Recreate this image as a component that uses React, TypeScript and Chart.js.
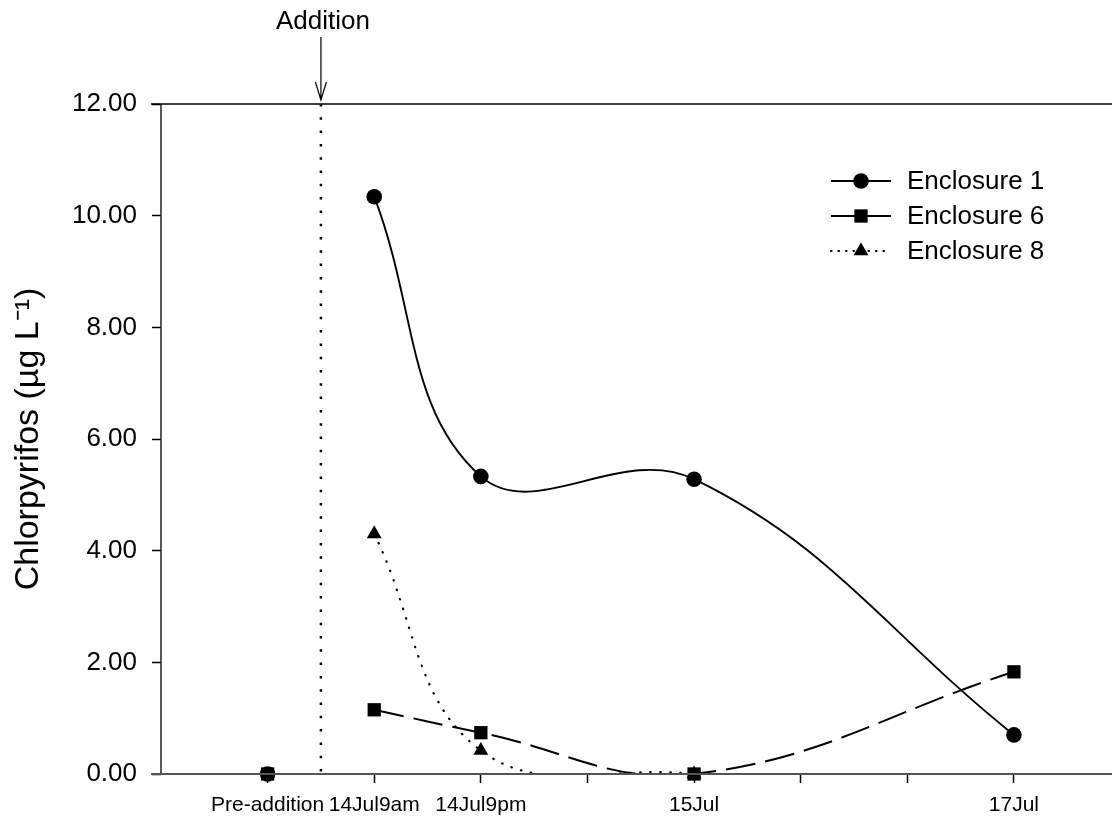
import React, { useEffect, useRef } from 'react';
import { Chart, registerables } from 'chart.js';

Chart.register(...registerables);

// ---- data ----
const timeLabels = ['Pre-addition', '14Jul9am', '14Jul9pm', '15Jul', '17Jul'];
const timePositions = [0, 1, 2, 4, 7]; // in 12-hour steps
const additionPosition = 0.5;
const additionLabel = 'Addition';
const seriesNames = ['Enclosure 1', 'Enclosure 6', 'Enclosure 8'];
const enclosure1 = [0, 10.34, 5.33, 5.28, 0.7];
const enclosure6 = [0, 1.15, 0.74, 0.0, 1.83];
const enclosure8: (number | null)[] = [null, 4.3, 0.42, 0.0, null];
const xTickValues = [0, 1, 2, 3, 4, 5, 6, 7];
const xMin = -1;
const xMax = 7.92;
const yMin = 0;
const yMax = 12;
const yStep = 2;
const yTitle = 'Chlorpyrifos (µg L⁻¹)';

const FONT = '"Liberation Sans", Arial, Helvetica, sans-serif';

function toPoints(values: (number | null)[]) {
  const pts: { x: number; y: number | null }[] = [];
  values.forEach((v, i) => {
    if (i === 1) pts.push({ x: additionPosition, y: null });
    pts.push({ x: timePositions[i], y: v });
  });
  return pts;
}

const seriesStyles = [
  { dash: [] as number[], style: 'circle', radius: 7.8, width: 1.9, cap: 'butt' as CanvasLineCap, legendDash: [] as number[] },
  { dash: [30, 10], style: 'rect', radius: 9.4, width: 2, cap: 'butt' as CanvasLineCap, legendDash: [] as number[] },
  { dash: [0.5, 9.5], style: 'triangle', radius: 8.6, width: 2.2, cap: 'round' as CanvasLineCap, legendDash: [0.5, 7] },
];

function drawMarker(ctx: CanvasRenderingContext2D, style: string, x: number, y: number, r: number) {
  ctx.save();
  ctx.fillStyle = '#000';
  ctx.setLineDash([]);
  ctx.beginPath();
  if (style === 'circle') {
    ctx.arc(x, y, r, 0, Math.PI * 2);
  } else if (style === 'rect') {
    const s = r * Math.SQRT1_2;
    ctx.rect(x - s, y - s, 2 * s, 2 * s);
  } else {
    const h = r * 1.5;
    const half = (r * Math.sqrt(3)) / 2;
    ctx.moveTo(x, y - r);
    ctx.lineTo(x + half, y - r + h);
    ctx.lineTo(x - half, y - r + h);
    ctx.closePath();
  }
  ctx.fill();
  ctx.restore();
}

const decorPlugin = {
  id: 'decor',
  beforeDatasetsDraw(chart: any) {
    const { ctx, chartArea, scales } = chart;
    const xs = scales.x;
    const ax = xs.getPixelForValue(additionPosition);
    ctx.save();
    ctx.strokeStyle = '#000';
    ctx.lineWidth = 2.5;
    ctx.setLineDash([2.5, 10.8]);
    ctx.beginPath();
    ctx.moveTo(ax, chartArea.top);
    ctx.lineTo(ax, chartArea.bottom);
    ctx.stroke();
    ctx.restore();
  },
  afterDraw(chart: any) {
    const { ctx, chartArea, scales } = chart;
    const xs = scales.x;
    const ys = scales.y;
    const leftExt = chartArea.left - 10;
    ctx.save();
    // top line
    ctx.strokeStyle = '#000';
    ctx.lineWidth = 1.5;
    ctx.beginPath();
    ctx.moveTo(leftExt, ys.getPixelForValue(yMax));
    ctx.lineTo(chartArea.right, ys.getPixelForValue(yMax));
    ctx.stroke();
    // y axis
    ctx.strokeStyle = '#222';
    ctx.lineWidth = 1.5;
    ctx.beginPath();
    ctx.moveTo(chartArea.left, chartArea.top);
    ctx.lineTo(chartArea.left, chartArea.bottom);
    ctx.stroke();
    // x axis
    ctx.strokeStyle = '#555';
    ctx.lineWidth = 2;
    ctx.beginPath();
    ctx.moveTo(leftExt, ys.getPixelForValue(yMin));
    ctx.lineTo(chartArea.right, ys.getPixelForValue(yMin));
    ctx.stroke();

    // arrow + Addition label
    const ax = xs.getPixelForValue(additionPosition);
    ctx.strokeStyle = '#000';
    ctx.lineWidth = 1.2;
    ctx.beginPath();
    ctx.moveTo(ax, 37);
    ctx.lineTo(ax, chartArea.top - 4);
    ctx.moveTo(ax - 5.5, chartArea.top - 22);
    ctx.lineTo(ax, chartArea.top - 4);
    ctx.lineTo(ax + 5.5, chartArea.top - 22);
    ctx.stroke();
    ctx.fillStyle = '#000';
    ctx.font = `26px ${FONT}`;
    ctx.textAlign = 'center';
    ctx.textBaseline = 'alphabetic';
    ctx.fillText(additionLabel, ax + 2, 29);

    // legend
    const rows = [181, 216, 251];
    const lx0 = 831;
    const lx1 = 891;
    const mx = 861;
    seriesNames.forEach((name, i) => {
      const st = seriesStyles[i];
      const y = rows[i];
      ctx.save();
      ctx.strokeStyle = '#000';
      ctx.lineWidth = st.width;
      ctx.lineCap = st.cap;
      ctx.setLineDash(st.legendDash);
      ctx.beginPath();
      ctx.moveTo(lx0, y);
      ctx.lineTo(lx1, y);
      ctx.stroke();
      ctx.restore();
      drawMarker(ctx, st.style, mx, y, st.radius);
      ctx.fillStyle = '#000';
      ctx.font = `26px ${FONT}`;
      ctx.textAlign = 'left';
      ctx.textBaseline = 'middle';
      ctx.fillText(name, 907, y + 1);
    });
    ctx.restore();
  },
};

export default function App() {
  const canvasRef = useRef<HTMLCanvasElement | null>(null);

  useEffect(() => {
    const canvas = canvasRef.current;
    if (!canvas) return;
    const allSeries = [enclosure1, enclosure6, enclosure8];
    const lineSets = allSeries.map((values, i) => {
      const st = seriesStyles[i];
      return {
        label: seriesNames[i] + ' line',
        data: toPoints(values),
        borderColor: '#000',
        backgroundColor: '#000',
        borderWidth: st.width,
        borderDash: st.dash,
        borderCapStyle: st.cap,
        pointRadius: 0,
        tension: 0.4,
        capBezierPoints: false,
        spanGaps: false,
        clip: 0,
        fill: false,
        order: 10 + i,
      };
    });
    const pointSets = allSeries.map((values, i) => {
      const st = seriesStyles[i];
      return {
        label: seriesNames[i],
        data: toPoints(values),
        showLine: false,
        pointStyle: st.style,
        pointRadius: st.radius,
        pointBackgroundColor: '#000',
        pointBorderColor: '#000',
        pointBorderWidth: 0,
        clip: false,
        order: i,
      };
    });

    const chart = new Chart(canvas, {
      type: 'line',
      data: { datasets: [...lineSets, ...pointSets] } as any,
      plugins: [decorPlugin],
      options: {
        animation: false,
        responsive: false,
        events: [],
        layout: { autoPadding: false, padding: { top: 104, right: 0, left: 0, bottom: 0 } },
        plugins: {
          legend: { display: false },
          tooltip: { enabled: false },
        },
        scales: {
          x: {
            type: 'linear',
            min: xMin,
            max: xMax,
            afterBuildTicks: (scale: any) => {
              scale.ticks = xTickValues.map((v) => ({ value: v }));
            },
            afterFit: (scale: any) => {
              scale.height = 44;
            },
            ticks: {
              autoSkip: false,
              maxRotation: 0,
              minRotation: 0,
              padding: 10,
              color: '#000',
              font: { family: FONT, size: 21 },
              callback: (v: any) => {
                const idx = timePositions.indexOf(Number(v));
                return idx >= 0 ? timeLabels[idx] : '';
              },
            },
            grid: {
              display: true,
              drawOnChartArea: false,
              drawTicks: true,
              tickLength: 9,
              tickColor: '#000',
              tickWidth: 1.5,
            },
            border: { display: false },
          },
          y: {
            type: 'linear',
            min: yMin,
            max: yMax,
            afterFit: (scale: any) => {
              scale.width = 161;
            },
            ticks: {
              stepSize: yStep,
              padding: 15,
              color: '#000',
              font: { family: FONT, size: 26 },
              callback: (v: any) => Number(v).toFixed(2),
            },
            grid: {
              display: true,
              drawOnChartArea: false,
              drawTicks: true,
              tickLength: 9,
              tickColor: '#000',
              tickWidth: 1.5,
            },
            border: { display: false },
            title: {
              display: true,
              text: yTitle,
              color: '#000',
              font: { family: FONT, size: 34 },
              padding: { top: 8, bottom: 0 },
            },
          },
        },
      } as any,
    });
    return () => chart.destroy();
  }, []);

  return (
    <div style={{ position: 'absolute', left: 0, top: 0, width: 1112, height: 818, background: '#fff' }}>
      <canvas ref={canvasRef} width={1112} height={818} style={{ display: 'block' }} />
    </div>
  );
}
